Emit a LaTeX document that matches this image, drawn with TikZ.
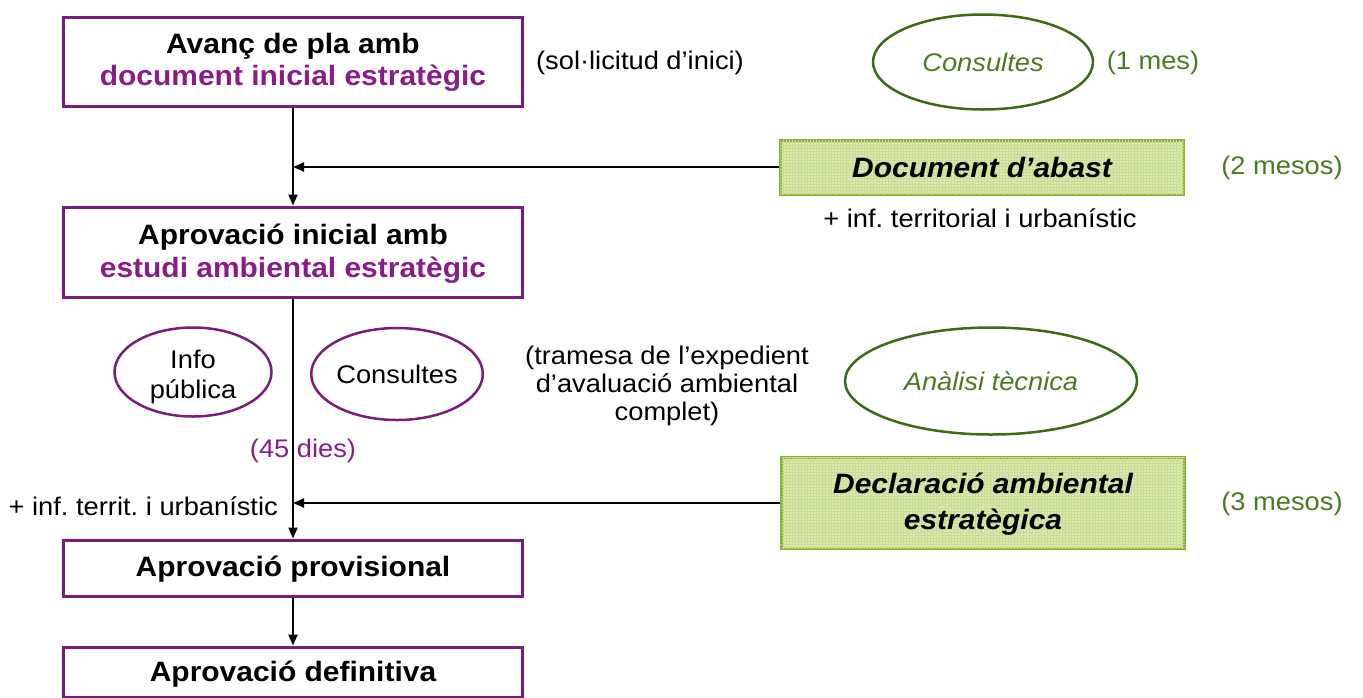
\documentclass[tikz,border=0pt]{standalone}
\usepackage{fontspec}
\setmainfont{Liberation Sans}[FakeStretch=1.07]
\usetikzlibrary{shapes.geometric,arrows.meta,patterns}
\definecolor{pborder}{HTML}{7A1C7A}
\definecolor{ptext}{HTML}{8A1C88}
\definecolor{gdark}{HTML}{3A6B17}
\definecolor{gtext}{HTML}{4A7B22}
\definecolor{gborder}{HTML}{86B332}
\definecolor{gfill}{HTML}{DCE9AE}
\definecolor{ggrid}{HTML}{CADD95}
\frenchspacing
\begin{document}
\begin{tikzpicture}[x=1pt,y=-1pt,
 pbox/.style={draw=pborder, line width=3pt, inner sep=0pt},
 btxt/.style={inner sep=0pt, anchor=base, font=\fontsize{28}{32}\selectfont\bfseries, text=black},
 gbox/.style={draw=gborder, line width=3pt, fill=gfill, postaction={pattern=grid, pattern color=ggrid}, inner sep=0pt},
 gtxt/.style={inner sep=0pt, anchor=base, font=\fontsize{28}{32}\selectfont\bfseries\itshape, text=black},
 pell/.style={ellipse, draw=pborder, line width=2.5pt, inner sep=0pt},
 gell/.style={ellipse, draw=gdark, line width=2.5pt, inner sep=0pt},
 lbl/.style={inner sep=0pt, align=center, font=\fontsize{25.5}{28}\selectfont},
 arr/.style={line width=2pt, -{Triangle[length=11pt,width=9pt]}},
]
\useasboundingbox (0,0) rectangle (1363,697);

% main boxes
\node[pbox, minimum width=459pt, minimum height=89pt] (b1) at (293,61.5) {};
\node[btxt] (t1a) at (293,53) {Avanç de pla amb};
\node[btxt, text=ptext] (t1b) at (293,85) {document inicial estratègic};
\node[pbox, minimum width=459pt, minimum height=90pt] (b2) at (293,252) {};
\node[btxt] (t2a) at (293,244) {Aprovació inicial amb};
\node[btxt, text=ptext] (t2b) at (293,277) {estudi ambiental estratègic};
\node[pbox, minimum width=459pt, minimum height=56pt] (b3) at (293,568) {};
\node[btxt] (t3) at (293,576) {Aprovació provisional};
\node[pbox, minimum width=459pt, minimum height=50pt] (b4) at (293,672) {};
\node[btxt] (t4) at (293,681) {Aprovació definitiva};

% green boxes
\node[gbox, minimum width=403pt, minimum height=54pt] (d1) at (982,167) {};
\node[gtxt] (td1) at (982,177) {Document d’abast};
\node[gbox, minimum width=403pt, minimum height=91pt] (d2) at (983,503) {};
\node[gtxt] (td2a) at (983,493) {Declaració ambiental};
\node[gtxt] (td2b) at (983,529) {estratègica};

% ellipses
\node[gell, minimum width=220pt, minimum height=95pt, text=gtext, font=\fontsize{25.5}{28}\selectfont\itshape] (e1) at (983,62) {Consultes};
\node[pell, minimum width=157pt, minimum height=89pt] (e2) at (193,372) {};
\node[lbl] (te2) at (193,377) {Info\\[2pt]pública};
\node[pell, minimum width=167pt, minimum height=92pt, font=\fontsize{25.5}{28}\selectfont] (e3) at (397,374) {Consultes};
\node[gell, minimum width=292pt, minimum height=107pt, text=gtext, font=\fontsize{25.5}{28}\selectfont\itshape] (e4) at (991,381) {Anàlisi tècnica};

% labels
\node[lbl] (sol) at (640,63) {(sol·licitud d’inici)};
\node[lbl, text=gtext] (m1) at (1153,63) {(1 mes)};
\node[lbl, text=gtext] (m2) at (1282,168) {(2 mesos)};
\node[lbl, text=gtext] (m3) at (1282,504) {(3 mesos)};
\node[lbl] (inf1) at (980,218) {+ inf. territorial i urbanístic};
\node[lbl] (tram) at (667,386) {(tramesa de l’expedient\\d’avaluació ambiental\\complet)};
\node[lbl, text=ptext] (dies) at (303,451) {(45 dies)};
\node[lbl, anchor=east] (inf2) at (278,506) {+ inf. territ. i urbanístic};

% connectors
\draw[arr] (b1.south) -- (b2.north);
\coordinate (j1) at (b1.south |- d1.west);
\draw[arr] (d1.west) -- (j1);
\draw[arr] (b2.south) -- (b3.north);
\coordinate (j2) at (b2.south |- d2.west);
\draw[arr] (d2.west) -- (j2);
\draw[arr] (b3.south) -- (b4.north);
\end{tikzpicture}
\end{document}
